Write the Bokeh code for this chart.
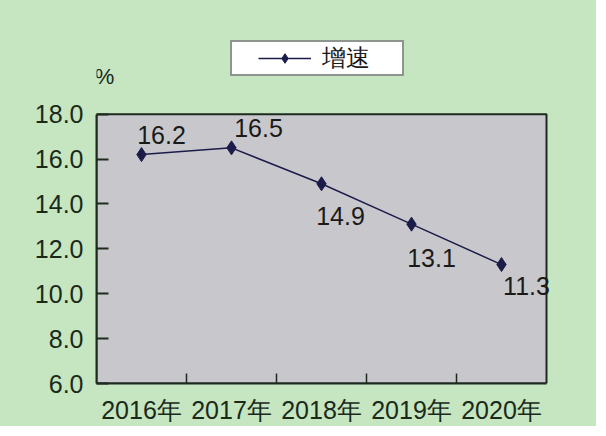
from bokeh.plotting import figure
from bokeh.models import (ColumnDataSource, FixedTicker, Range1d, Legend, LegendItem,
                          Label, LabelSet, CustomJSTickFormatter)
from bokeh.core.properties import value
from bokeh.embed import file_html
from bokeh.resources import INLINE

years = ["2016年", "2017年", "2018年", "2019年", "2020年"]
growth = [16.2, 16.5, 14.9, 13.1, 11.3]
y_ticks = [6, 8, 10, 12, 14, 16, 18]
series_name = "增速"
unit_label = "%"

# label placement (pixels), kept apart from the data
lab_dx = [20, 27, 19, 20, 25]
lab_dy = [20, 20, -32, -34, -21]

FONT = "Liberation Sans"
GREEN = "#c6e5c1"
GRAY = "#c8c8cc"
LINE = "#1c1c4a"
TEXT = "#1a2a1a"
DARK = "#1e2a1e"

PX_PER_UNIT = 22.5      # vertical scale of the gray plot box
EXTRA_TOP_PX = 114      # green space above the plot box
PX_PER_CAT = 90         # horizontal width of one year
EXTRA_RIGHT_PX = 40     # green space right of the plot box (inside the frame)

xs = [i + 0.5 for i in range(len(years))]
src = ColumnDataSource(dict(x=xs, y=growth, txt=[f"{v:.1f}" for v in growth],
                            dx=lab_dx, dy=lab_dy))

y_top = y_ticks[-1] + EXTRA_TOP_PX / PX_PER_UNIT
x_end = len(years) + EXTRA_RIGHT_PX / PX_PER_CAT

p = figure(width=596, height=426, output_backend="svg", toolbar_location=None,
           x_range=Range1d(0, x_end), y_range=Range1d(y_ticks[0], y_top),
           min_border_left=96, min_border_right=10, min_border_top=0, min_border_bottom=42)

p.styles = {"background-color": GREEN}
p.background_fill_color = GREEN
p.border_fill_color = GREEN
p.outline_line_color = None
p.xgrid.visible = False
p.ygrid.visible = False

# gray plotting box
p.quad(left=0, right=len(years), bottom=y_ticks[0], top=y_ticks[-1],
       fill_color=GRAY, line_color=DARK, line_width=2)

# x axis
p.xaxis.bounds = (0, len(years))
p.xaxis.ticker = FixedTicker(ticks=xs, minor_ticks=list(range(1, len(years))))
p.xaxis.major_label_overrides = {x: y for x, y in zip(xs, years)}
p.xaxis.major_tick_in = 0
p.xaxis.major_tick_out = 0
p.xaxis.minor_tick_in = 10
p.xaxis.minor_tick_out = 0
p.xaxis.minor_tick_line_color = DARK
p.xaxis.minor_tick_line_width = 1.5
p.xaxis.axis_line_color = DARK
p.xaxis.axis_line_width = 2
p.xaxis.major_label_standoff = 12
p.xaxis.major_label_text_font = FONT
p.xaxis.major_label_text_font_size = "25px"
p.xaxis.major_label_text_color = TEXT

# y axis
p.yaxis.bounds = (y_ticks[0], y_ticks[-1])
p.yaxis.ticker = FixedTicker(ticks=y_ticks)
p.yaxis.formatter = CustomJSTickFormatter(code="return tick.toFixed(1);")
p.yaxis.major_tick_in = 12
p.yaxis.major_tick_out = 0
p.yaxis.major_tick_line_color = DARK
p.yaxis.major_tick_line_width = 2
p.yaxis.minor_tick_line_color = None
p.yaxis.axis_line_color = DARK
p.yaxis.axis_line_width = 2
p.yaxis.major_label_standoff = 13
p.yaxis.major_label_text_font = FONT
p.yaxis.major_label_text_font_size = "25px"
p.yaxis.major_label_text_color = TEXT

ln = p.line("x", "y", source=src, line_color=LINE, line_width=1.5)
sc = p.scatter("x", "y", source=src, marker="diamond", size=14, fill_color=LINE, line_color=LINE)

labels = LabelSet(x="x", y="y", text="txt", source=src, x_offset="dx", y_offset="dy",
                  text_align="center", text_baseline="middle", text_font=value(FONT),
                  text_font_size=value("25px"), text_color="#1a1a1a")
p.add_layout(labels)

p.add_layout(Label(x=0, y=y_ticks[-1], x_offset=8, y_offset=38, text=unit_label,
                   text_font=FONT, text_font_size="22px", text_color=TEXT,
                   text_align="center", text_baseline="middle"))

legend = Legend(items=[LegendItem(label=series_name, renderers=[ln, sc])],
                location=(134, 307), orientation="horizontal",
                border_line_color=DARK, border_line_width=2,
                background_fill_color="white", background_fill_alpha=1,
                label_text_font=FONT, label_text_font_size="24px", label_text_color="#1a1a1a",
                label_width=80, label_height=24,
                title=" ", title_location="left", title_standoff=24,
                title_text_font_size="2px",
                glyph_width=53, glyph_height=24, padding=0, margin=0, spacing=0,
                label_standoff=11)
p.add_layout(legend)

open("out.html", "w").write(file_html(p, INLINE))
